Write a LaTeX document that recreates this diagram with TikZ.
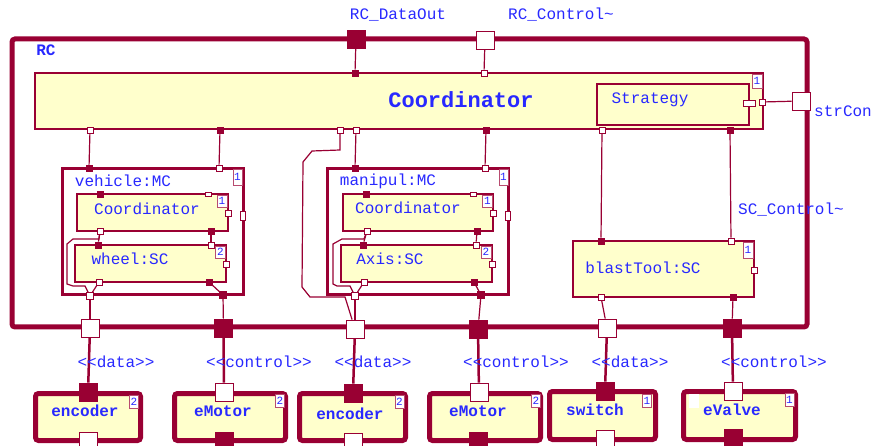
\documentclass[tikz,border=0pt]{standalone}
\usepackage{fontspec}
\setmonofont{Liberation Mono}
\definecolor{dRed}{RGB}{153,0,51}
\definecolor{pYellow}{RGB}{255,255,204}
\definecolor{tBlue}{RGB}{40,40,255}
\begin{document}
\begin{tikzpicture}[x=1pt, y=-1pt,
    frameStyle/.style={rectangle, draw=dRed, line width=5pt, rounded corners=3pt, inner sep=0pt},
    mcStyle/.style={rectangle, draw=dRed, line width=3pt, fill=white, inner sep=0pt},
    partStyle/.style={rectangle, draw=dRed, line width=1.2pt, fill=pYellow, inner sep=0pt},
    extStyle/.style={rectangle, draw=dRed, line width=5pt, fill=pYellow, rounded corners=3pt, inner sep=0pt},
    portF/.style={rectangle, draw=dRed, fill=dRed, line width=0.8pt, minimum size=6pt, inner sep=0pt},
    portE/.style={portF, fill=white},
    bigPortF/.style={portF, minimum size=18pt},
    bigPortE/.style={bigPortF, fill=white},
    multStyle/.style={rectangle, draw=dRed!70, fill=white, line width=0.8pt, minimum width=10pt, minimum height=13pt, inner sep=0pt, text=tBlue, font=\ttfamily\fontsize{11}{11}\selectfont},
    lblStyle/.style={inner sep=0pt, text=tBlue, font=\ttfamily\fontsize{16}{16}\selectfont},
    boldLbl/.style={lblStyle, font=\ttfamily\bfseries\fontsize{16}{16}\selectfont},
    wireStyle/.style={draw=dRed, line width=1.2pt},
    busStyle/.style={draw=dRed, line width=2.5pt}]
\useasboundingbox (0,0) rectangle (873,446);

\node[frameStyle, minimum width=795pt, minimum height=288pt] (rc) at (409.5,183) {};
\node[boldLbl] (rc_L) at (46,50) {RC};
\node[lblStyle] (rc_L0) at (398,15) {RC\_DataOut};
\node[lblStyle] (rc_L1) at (561,15) {RC\_Control\textasciitilde};
\node[lblStyle] (rc_L2) at (843,111) {strCon};
\node[lblStyle] (rc_L3) at (791,210) {SC\_Control\textasciitilde};

\node[partStyle, minimum width=728pt, minimum height=56pt] (co) at (399,101) {};
\node[boldLbl, font=\ttfamily\bfseries\fontsize{22}{22}\selectfont] (co_L) at (461,100) {Coordinator};
\node[multStyle, minimum height=14pt] (co_M) at (757,81) {1};
\node[partStyle, minimum width=152pt, minimum height=41pt] (st) at (673,104.5) {};
\node[lblStyle] (st_L) at (650,100) {Strategy};

\node[mcStyle, minimum width=181pt, minimum height=126pt] (veh) at (152.5,232) {};
\node[lblStyle] (veh_L) at (123,181) {vehicle:MC};
\node[multStyle, minimum width=9pt, minimum height=16pt] (veh_M) at (237.5,177) {1};
\node[partStyle, minimum width=151pt, minimum height=37pt] (vc) at (152.5,212.5) {};
\node[lblStyle] (vc_L) at (147,209) {Coordinator};
\node[multStyle, minimum height=12pt] (vc_M) at (222,201) {1};
\node[partStyle, minimum width=151pt, minimum height=37pt] (wh) at (150.5,263.5) {};
\node[lblStyle] (wh_L) at (130,259) {wheel:SC};
\node[multStyle, minimum height=12pt] (wh_M) at (220.5,252) {2};

\node[mcStyle, minimum width=181pt, minimum height=126pt] (man) at (417.5,232) {};
\node[lblStyle] (man_L) at (388,181) {manipul:MC};
\node[multStyle, minimum width=9pt, minimum height=16pt] (man_M) at (503.5,177) {1};
\node[partStyle, minimum width=150pt, minimum height=37pt] (mc) at (418,212.5) {};
\node[lblStyle] (mc_L) at (408,208) {Coordinator};
\node[multStyle, minimum height=12pt] (mc_M) at (487.5,201) {1};
\node[partStyle, minimum width=151pt, minimum height=37pt] (ax) at (416.5,263.5) {};
\node[lblStyle] (ax_L) at (390,259) {Axis:SC};
\node[multStyle, minimum height=12pt] (ax_M) at (486,252) {2};

\node[partStyle, minimum width=181pt, minimum height=56pt] (bt) at (663.5,269) {};
\node[lblStyle] (bt_L) at (643,268) {blastTool:SC};
\node[multStyle, minimum height=16pt] (bt_M) at (748,250) {1};

\node[extStyle, minimum width=105pt, minimum height=47pt] (enc1) at (88,417) {};
\node[boldLbl] (enc1_L) at (85,411) {encoder};
\node[multStyle, minimum width=9pt] (enc1_M) at (134,401.5) {2};
\node[extStyle, minimum width=111pt, minimum height=47pt] (mot1) at (230,417) {};
\node[boldLbl] (mot1_L) at (223,411) {eMotor};
\node[multStyle, minimum width=9pt] (mot1_M) at (280,401) {2};
\node[extStyle, minimum width=106pt, minimum height=47pt] (enc2) at (352.5,417) {};
\node[boldLbl] (enc2_L) at (350,414) {encoder};
\node[multStyle, minimum width=9pt] (enc2_M) at (399.5,402) {2};
\node[extStyle, minimum width=111pt, minimum height=47pt] (mot2) at (485,417) {};
\node[boldLbl] (mot2_L) at (478,411) {eMotor};
\node[multStyle, minimum width=9pt] (mot2_M) at (536,401) {2};
\node[extStyle, minimum width=106pt, minimum height=48pt] (sw) at (602.5,415.5) {};
\node[boldLbl] (sw_L) at (595,410) {switch};
\node[multStyle, minimum width=9pt] (sw_M) at (647,400.5) {1};
\node[extStyle, minimum width=112pt, minimum height=48pt] (val) at (739.5,415.5) {};
\node[boldLbl] (val_L) at (732,410) {eValve};
\node[multStyle, minimum width=9pt] (val_M) at (789.5,399.5) {1};
\node[fill=white, minimum width=10pt, minimum height=14pt, inner sep=0pt] (val_W) at (694,401) {};

\node[bigPortF] (rc_T0) at (356,39) {};
\node[bigPortE] (rc_T1) at (485,40) {};
\node[bigPortE] (rc_R)  at (801,101) {};
\node[bigPortE] (rc_B0) at (90,328) {};
\node[bigPortF] (rc_B1) at (223.5,328) {};
\node[bigPortE] (rc_B2) at (355,329) {};
\node[bigPortF] (rc_B3) at (478,329) {};
\node[bigPortE] (rc_B4) at (607,328) {};
\node[bigPortF] (rc_B5) at (732,328) {};

\node[portF] (co_T0) at (355,73) {};
\node[portE] (co_T1) at (484,73) {};
\node[portE] (co_R)  at (762,102) {};
\node[portE, minimum width=12pt] (st_R) at (749.5,103) {};
\node[portE] (co_B0) at (90,130) {};
\node[portF] (co_B1) at (220,130) {};
\node[portE] (co_B2) at (340,130) {};
\node[portE] (co_B3) at (356,130) {};
\node[portF] (co_B4) at (486,130) {};
\node[portE] (co_B5) at (602,130) {};
\node[portF] (co_B6) at (730,130) {};

\node[portF] (veh_T0) at (89,168) {};
\node[portE] (veh_T1) at (219,168) {};
\node[portE, minimum width=5pt, minimum height=9pt] (veh_R) at (243,216) {};
\node[portE, minimum size=7pt] (veh_B0) at (90,296) {};
\node[portF, minimum size=7pt] (veh_B1) at (223,295) {};
\node[portF] (vc_T0) at (100,194) {};
\node[portE, minimum height=4pt] (vc_T1) at (208,194) {};
\node[portE] (vc_R)  at (228,213) {};
\node[portE] (vc_B0) at (100,231) {};
\node[portF] (vc_B1) at (211,231) {};
\node[portF] (wh_T0) at (98,245) {};
\node[portE] (wh_T1) at (211,245) {};
\node[portE] (wh_R)  at (226,264) {};
\node[portE] (wh_B0) at (99,282) {};
\node[portF] (wh_B1) at (209,282) {};

\node[portF] (man_T0) at (355,168) {};
\node[portE] (man_T1) at (485,168) {};
\node[portE, minimum width=5pt, minimum height=9pt] (man_R) at (508,216) {};
\node[portE, minimum size=7pt] (man_B0) at (355,296) {};
\node[portF, minimum size=7pt] (man_B1) at (481,295) {};
\node[portF] (mc_T0) at (366,194) {};
\node[portE, minimum height=4pt] (mc_T1) at (473,194) {};
\node[portE] (mc_R)  at (493,213) {};
\node[portE] (mc_B0) at (367,231) {};
\node[portF] (mc_B1) at (477,231) {};
\node[portF] (ax_T0) at (363,245) {};
\node[portE] (ax_T1) at (476,245) {};
\node[portE] (ax_R)  at (492,264) {};
\node[portE] (ax_B0) at (364,282) {};
\node[portF] (ax_B1) at (474,282) {};

\node[portF] (bt_T0) at (601,241) {};
\node[portE] (bt_T1) at (731,241) {};
\node[portE] (bt_R)  at (754,270) {};
\node[portE] (bt_B0) at (601,297) {};
\node[portF] (bt_B1) at (733,297) {};

\node[bigPortF] (enc1_T) at (88,392) {};
\node[bigPortE] (enc1_B) at (88,441) {};
\node[bigPortE] (mot1_T) at (224,392) {};
\node[bigPortF] (mot1_B) at (224,441) {};
\node[bigPortF] (enc2_T) at (353,393) {};
\node[bigPortE] (enc2_B) at (353,442) {};
\node[bigPortE] (mot2_T) at (479,392) {};
\node[bigPortF] (mot2_B) at (478,441) {};
\node[bigPortF] (sw_T) at (605,391) {};
\node[bigPortE] (sw_B) at (605,439) {};
\node[bigPortE] (val_T) at (733,391) {};
\node[bigPortF] (val_B) at (733,438) {};

\draw[wireStyle] (rc_T0) -- (co_T0);
\draw[wireStyle] (rc_T1) -- (co_T1);
\draw[wireStyle] (co_R) -- (rc_R);
\draw[wireStyle] (co_B0) -- (veh_T0);
\draw[wireStyle] (co_B1) -- (veh_T1);
\draw[wireStyle] (co_B2) -- (340,150) -- (312,151) -- (303,162) -- (302,287) -- (310,297) -- (345,297) -- (rc_B2);
\draw[wireStyle] (co_B3) -- (man_T0);
\draw[wireStyle] (co_B4) -- (man_T1);
\draw[wireStyle] (co_B5) -- (bt_T0);
\draw[wireStyle] (co_B6) -- (bt_T1);

\draw[wireStyle] (vc_B0) -- (wh_T0);
\draw[wireStyle] (vc_B1) -- (wh_T1);
\draw[wireStyle] (vc_B0) -- (99,239) -- (73,239) -- (67,244) -- (67,284) -- (73,286) -- (85,286) -- (veh_B0);
\draw[wireStyle] (wh_B0) -- (veh_B0);
\draw[wireStyle] (wh_B1) -- (veh_B1);
\draw[wireStyle] (veh_B0) -- (rc_B0);
\draw[wireStyle] (veh_B1) -- (rc_B1);

\draw[wireStyle] (mc_B0) -- (ax_T0);
\draw[wireStyle] (mc_B1) -- (ax_T1);
\draw[wireStyle] (mc_B0) -- (364,239) -- (342,239) -- (333,244) -- (333,284) -- (337,286) -- (350,286) -- (man_B0);
\draw[wireStyle] (ax_B0) -- (man_B0);
\draw[wireStyle] (ax_B1) -- (man_B1);
\draw[wireStyle] (man_B0) -- (rc_B2);
\draw[wireStyle] (man_B1) -- (rc_B3);

\draw[wireStyle] (bt_B0) -- (rc_B4);
\draw[wireStyle] (bt_B1) -- (rc_B5);

\draw[busStyle] (rc_B0) -- (enc1_T);
\draw[busStyle] (rc_B1) -- (mot1_T);
\draw[busStyle] (rc_B2) -- (enc2_T);
\draw[busStyle] (rc_B3) -- (mot2_T);
\draw[busStyle] (rc_B4) -- (sw_T);
\draw[busStyle] (rc_B5) -- (val_T);

\node[lblStyle] (bus_L0) at (116,362) {<<data>>};
\node[lblStyle] (bus_L1) at (259,362) {<<control>>};
\node[lblStyle] (bus_L2) at (373,362) {<<data>>};
\node[lblStyle] (bus_L3) at (516,362) {<<control>>};
\node[lblStyle] (bus_L4) at (630,362) {<<data>>};
\node[lblStyle] (bus_L5) at (774,362) {<<control>>};
\end{tikzpicture}
\end{document}
